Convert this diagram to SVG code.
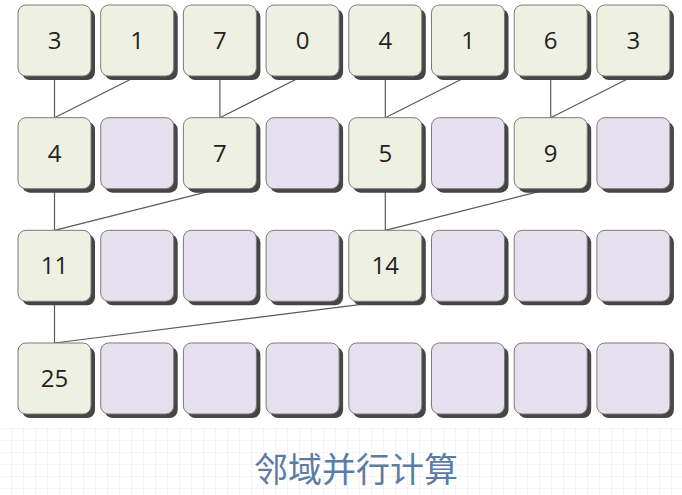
<svg xmlns="http://www.w3.org/2000/svg" width="682" height="495" viewBox="0 0 682 495">
<defs>
<style>
.sh{fill:#454545}
.g{fill:#eef1e2;stroke:#7a7a7a;stroke-width:1}
.p{fill:#e6dfed;stroke:#7a7a7a;stroke-width:1}
.t{font-family:"Open Sans","Noto Sans",sans-serif;font-size:24px;fill:#222;text-anchor:middle}
.c line{stroke:#5a5a5a;stroke-width:1.2}
.title{font-family:"Noto Sans CJK SC",sans-serif;font-size:34px;fill:#5b7ca6;text-anchor:middle}
</style>
<pattern id="grid" x="11" y="428" width="12" height="12" patternUnits="userSpaceOnUse">
<path d="M0 0H12M0 0V12" fill="none" stroke="#ececec" stroke-width="1.2"/>
</pattern>
<g id="box"><rect class="sh" x="4" y="4" width="73" height="71" rx="8"/></g>
</defs>
<rect width="682" height="495" fill="#fff"/>
<rect x="0" y="427" width="682" height="68" fill="url(#grid)"/>
<g id="connectors" class="c">
<line x1="54.5" y1="76" x2="54.5" y2="117.7"/>
<line x1="137.2" y1="76" x2="54.5" y2="117.7"/>
<line x1="219.9" y1="76" x2="219.9" y2="117.7"/>
<line x1="302.6" y1="76" x2="219.9" y2="117.7"/>
<line x1="385.3" y1="76" x2="385.3" y2="117.7"/>
<line x1="468" y1="76" x2="385.3" y2="117.7"/>
<line x1="550.7" y1="76" x2="550.7" y2="117.7"/>
<line x1="633.4" y1="76" x2="550.7" y2="117.7"/>
<line x1="54.5" y1="188.7" x2="54.5" y2="230.3"/>
<line x1="219.9" y1="188.7" x2="54.5" y2="230.3"/>
<line x1="385.3" y1="188.7" x2="385.3" y2="230.3"/>
<line x1="550.7" y1="188.7" x2="385.3" y2="230.3"/>
<line x1="54.5" y1="301.3" x2="54.5" y2="343"/>
<line x1="385.3" y1="301.3" x2="54.5" y2="343"/>
</g>
<!-- row 1 -->
<g id="r1c1" transform="translate(18,5)"><use href="#box"/><rect class="g" width="73" height="71" rx="8"/><text class="t" x="36.5" y="44">3</text></g>
<g id="r1c2" transform="translate(100.7,5)"><use href="#box"/><rect class="g" width="73" height="71" rx="8"/><text class="t" x="36.5" y="44">1</text></g>
<g id="r1c3" transform="translate(183.4,5)"><use href="#box"/><rect class="g" width="73" height="71" rx="8"/><text class="t" x="36.5" y="44">7</text></g>
<g id="r1c4" transform="translate(266.1,5)"><use href="#box"/><rect class="g" width="73" height="71" rx="8"/><text class="t" x="36.5" y="44">0</text></g>
<g id="r1c5" transform="translate(348.8,5)"><use href="#box"/><rect class="g" width="73" height="71" rx="8"/><text class="t" x="36.5" y="44">4</text></g>
<g id="r1c6" transform="translate(431.5,5)"><use href="#box"/><rect class="g" width="73" height="71" rx="8"/><text class="t" x="36.5" y="44">1</text></g>
<g id="r1c7" transform="translate(514.2,5)"><use href="#box"/><rect class="g" width="73" height="71" rx="8"/><text class="t" x="36.5" y="44">6</text></g>
<g id="r1c8" transform="translate(596.9,5)"><use href="#box"/><rect class="g" width="73" height="71" rx="8"/><text class="t" x="36.5" y="44">3</text></g>
<!-- row 2 -->
<g id="r2c1" transform="translate(18,117.7)"><use href="#box"/><rect class="g" width="73" height="71" rx="8"/><text class="t" x="36.5" y="44">4</text></g>
<g id="r2c2" transform="translate(100.7,117.7)"><use href="#box"/><rect class="p" width="73" height="71" rx="8"/></g>
<g id="r2c3" transform="translate(183.4,117.7)"><use href="#box"/><rect class="g" width="73" height="71" rx="8"/><text class="t" x="36.5" y="44">7</text></g>
<g id="r2c4" transform="translate(266.1,117.7)"><use href="#box"/><rect class="p" width="73" height="71" rx="8"/></g>
<g id="r2c5" transform="translate(348.8,117.7)"><use href="#box"/><rect class="g" width="73" height="71" rx="8"/><text class="t" x="36.5" y="44">5</text></g>
<g id="r2c6" transform="translate(431.5,117.7)"><use href="#box"/><rect class="p" width="73" height="71" rx="8"/></g>
<g id="r2c7" transform="translate(514.2,117.7)"><use href="#box"/><rect class="g" width="73" height="71" rx="8"/><text class="t" x="36.5" y="44">9</text></g>
<g id="r2c8" transform="translate(596.9,117.7)"><use href="#box"/><rect class="p" width="73" height="71" rx="8"/></g>
<!-- row 3 -->
<g id="r3c1" transform="translate(18,230.3)"><use href="#box"/><rect class="g" width="73" height="71" rx="8"/><text class="t" x="36.5" y="44">11</text></g>
<g id="r3c2" transform="translate(100.7,230.3)"><use href="#box"/><rect class="p" width="73" height="71" rx="8"/></g>
<g id="r3c3" transform="translate(183.4,230.3)"><use href="#box"/><rect class="p" width="73" height="71" rx="8"/></g>
<g id="r3c4" transform="translate(266.1,230.3)"><use href="#box"/><rect class="p" width="73" height="71" rx="8"/></g>
<g id="r3c5" transform="translate(348.8,230.3)"><use href="#box"/><rect class="g" width="73" height="71" rx="8"/><text class="t" x="36.5" y="44">14</text></g>
<g id="r3c6" transform="translate(431.5,230.3)"><use href="#box"/><rect class="p" width="73" height="71" rx="8"/></g>
<g id="r3c7" transform="translate(514.2,230.3)"><use href="#box"/><rect class="p" width="73" height="71" rx="8"/></g>
<g id="r3c8" transform="translate(596.9,230.3)"><use href="#box"/><rect class="p" width="73" height="71" rx="8"/></g>
<!-- row 4 -->
<g id="r4c1" transform="translate(18,343)"><use href="#box"/><rect class="g" width="73" height="71" rx="8"/><text class="t" x="36.5" y="44">25</text></g>
<g id="r4c2" transform="translate(100.7,343)"><use href="#box"/><rect class="p" width="73" height="71" rx="8"/></g>
<g id="r4c3" transform="translate(183.4,343)"><use href="#box"/><rect class="p" width="73" height="71" rx="8"/></g>
<g id="r4c4" transform="translate(266.1,343)"><use href="#box"/><rect class="p" width="73" height="71" rx="8"/></g>
<g id="r4c5" transform="translate(348.8,343)"><use href="#box"/><rect class="p" width="73" height="71" rx="8"/></g>
<g id="r4c6" transform="translate(431.5,343)"><use href="#box"/><rect class="p" width="73" height="71" rx="8"/></g>
<g id="r4c7" transform="translate(514.2,343)"><use href="#box"/><rect class="p" width="73" height="71" rx="8"/></g>
<g id="r4c8" transform="translate(596.9,343)"><use href="#box"/><rect class="p" width="73" height="71" rx="8"/></g>
<text class="title" x="356" y="482">邻域并行计算</text>
</svg>
